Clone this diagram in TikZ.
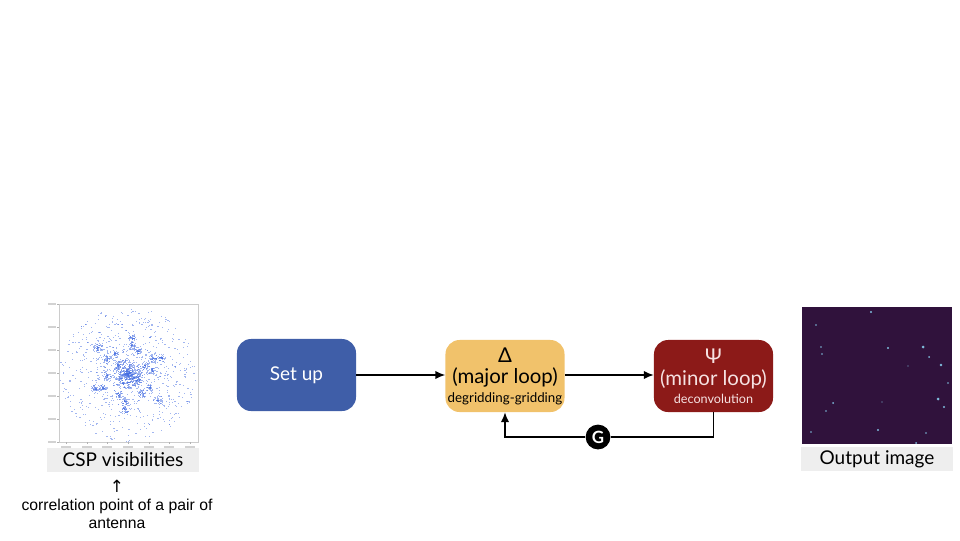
\documentclass[tikz,border=0pt]{standalone}
\usepackage{fontspec}
\setmainfont{Lato}
\newfontfamily\notefont{Liberation Sans}
\newfontfamily\symfont{DejaVu Sans}
\usetikzlibrary{arrows.meta}
\definecolor{setupblue}{RGB}{63,94,168}
\definecolor{majoryellow}{RGB}{241,194,107}
\definecolor{minorred}{RGB}{140,26,24}
\definecolor{minortext}{RGB}{246,226,226}
\definecolor{labelgray}{RGB}{238,238,238}
\definecolor{visblue}{RGB}{70,110,225}
\definecolor{skypurple}{RGB}{48,18,60}

\tikzset{
  stage/.style={rounded corners=10, minimum width=2.975cm, minimum height=1.8cm,
    align=center, inner sep=0pt, font=\fontsize{14.5}{15.5}\selectfont},
  flow/.style={line width=1.1pt, -{Latex[length=7pt, width=6pt]}},
  link/.style={line width=1.1pt},
  caption/.style={fill=labelgray, minimum width=3.8cm, minimum height=0.62cm,
    inner sep=0pt, font=\fontsize{13.5}{15}\selectfont},
  visdot/.style={fill=visblue, opacity=0.5},
  star/.style={fill=cyan!45!white, opacity=0.85}
}

\begin{document}
\begin{tikzpicture}[x=0.025cm, y=-0.025cm]
    \useasboundingbox (0,0) rectangle (960,540);

    % Visibility scatter plot
    \draw[gray!40, line width=0.3pt] (59,304) rectangle (198,442);
    \foreach \ty in {304,327,350,373,396,419,442} {
        \draw[gray!60, line width=0.3pt] (57,\ty) -- (59,\ty);
        \fill[gray!35] (48,\ty-0.8) rectangle (56,\ty+0.8);
    }
    \foreach \tx in {66,87,107,128,149,169,190} {
        \draw[gray!60, line width=0.3pt] (\tx,442) -- (\tx,444);
        \fill[gray!35] (\tx-5,446) rectangle (\tx+5,447.6);
    }
    \pgfmathsetseed{42}
    % scattered baselines
    \foreach \k in {1,...,900} {
        \pgfmathsetmacro\ang{360*rnd}
        \pgfmathsetmacro\dist{68*pow(rnd,0.9)}
        \pgfmathsetmacro\px{128+\dist*cos(\ang)-0.6}
        \pgfmathsetmacro\py{374+\dist*sin(\ang)-0.5}
        \fill[visdot] (\px,\py) rectangle ++(1.2,1);
    }
    % dense clumps
    \foreach \cx/\cy/\rad/\num in {128/374/15/450, 98/348/5/45, 132/338/4/35,
        132/346/4/32, 138/351/4/35, 153/359/5/40, 162/358/4/35, 107/359/5/40,
        115/354/4/32, 107/376/5/40, 96/389/5/45, 103/388/4/32, 119/396/4/35,
        125/401/4/32, 125/409/5/40, 142/393/5/40, 150/388/4/35, 158/400/5/40,
        152/370/5/35, 145/366/4/32, 118/365/5/35, 138/380/5/40} {
        \foreach \k in {1,...,\num} {
            \pgfmathsetmacro\ang{360*rnd}
            \pgfmathsetmacro\dist{\rad*rnd}
            \pgfmathsetmacro\px{\cx+\dist*cos(\ang)-0.6}
            \pgfmathsetmacro\py{\cy+\dist*sin(\ang)-0.5}
            \fill[visdot] (\px,\py) rectangle ++(1.2,1);
        }
    }
    \node[caption] (csp) at (123,460) {CSP visibilities};
    \node[font=\symfont\fontsize{12}{12}\selectfont, inner sep=0pt] (uparrow)
        at (117,486) {↑};
    \node[font=\notefont\fontsize{11.2}{12.3}\selectfont, align=center, inner sep=0pt]
        (note) at (117,514) {correlation point of a pair of\\antenna};

    % Pipeline stages
    \node[stage, fill=setupblue, text=white, font=\fontsize{13.5}{15}\selectfont]
        (setup) at (296.5,375) {Set up};
    \node[stage, fill=majoryellow, text=black] (major) at (505,376)
        {Δ\\(major loop)\\[-2.5pt]
         \fontsize{9.5}{10}\selectfont degridding-gridding};
    \node[stage, fill=minorred, text=minortext] (minor) at (713.5,376)
        {Ψ\\(minor loop)\\[-2.5pt]
         \fontsize{9}{10}\selectfont deconvolution};

    \draw[flow] (setup) -- (setup -| major.west);
    \draw[flow] (setup -| major.east) -- (setup -| minor.west);

    % Feedback through the gain
    \node[circle, fill=black, text=white, minimum size=0.62cm, inner sep=0pt,
        font=\bfseries\fontsize{12}{12}\selectfont] (gnode) at (598,437) {G};
    \draw[link] (minor.south) |- (gnode.east);
    \draw[flow] (gnode.west) -| (major.south);

    % Restored sky image
    \fill[skypurple] (802,307) rectangle (952,444);
    \foreach \sx/\sy/\sr in {871/312/1.1, 816/325/0.9, 821/347/0.9, 822/354/0.8,
        888/348/1.1, 923/347/1.5, 929/357/1.0, 941/365/1.3, 948/383/0.8,
        938/399/1.5, 944/407/1.1, 833/403/1.0, 826/411/0.8, 878/430/1.2,
        811/432/0.8, 926/433/0.8, 916/443/1.0, 908/366/0.7, 882/402/0.7} {
        \fill[star] (\sx,\sy) circle (\sr);
    }
    \node[caption] (outimg) at (877,459) {Output image};
\end{tikzpicture}
\end{document}
